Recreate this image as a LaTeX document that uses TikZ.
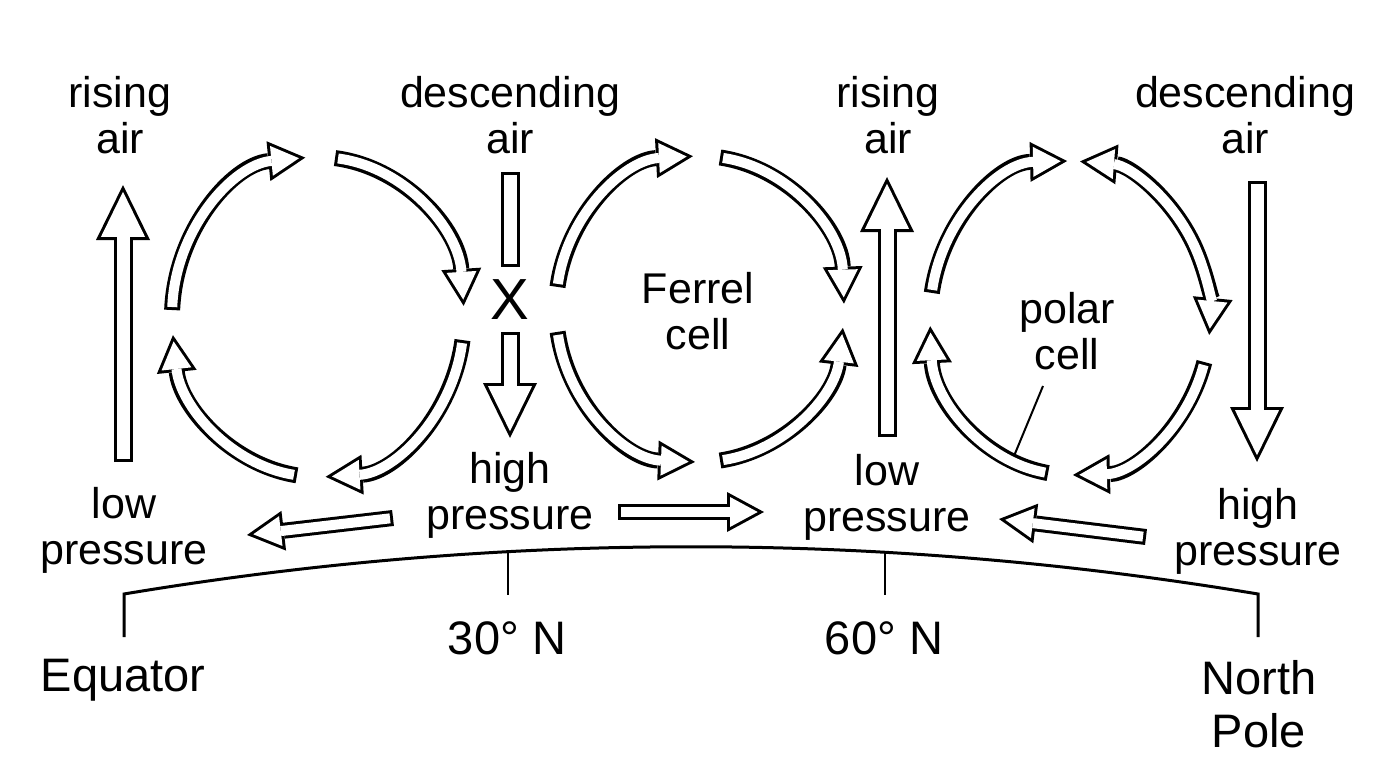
\documentclass[tikz,border=0pt]{standalone}
\usepackage{fontspec}
\setmainfont{Liberation Sans}
\usetikzlibrary{arrows.meta, calc}

\begin{document}
\begin{tikzpicture}[x=1pt, y=-1pt,
  lab/.style={font=\fontsize{43}{46}\selectfont, align=center, inner sep=0pt},
  geo/.style={font=\fontsize{47}{53}\selectfont, align=center, inner sep=0pt},
  bigflow/.style={draw=black, line width=19pt, -{Triangle[length=55pt, width=54pt, line width=0pt]},
    postaction={draw=white, line width=13pt, shorten <=3pt, shorten >=6.8pt, -{Triangle[length=45pt, width=44pt, line width=0pt]}}},
  flowbar/.style={draw=black, line width=19pt,
    postaction={draw=white, line width=13pt, shorten <=3pt, shorten >=3pt}},
  smallflow/.style={draw=black, line width=16pt, -{Triangle[length=37pt, width=40pt, line width=0pt]},
    postaction={draw=white, line width=10pt, shorten <=3pt, shorten >=6.3pt, -{Triangle[length=27.7pt, width=30pt, line width=0pt]}}},
  twoflow/.style={draw=black, line width=16pt, {Triangle[length=37pt, width=40pt, line width=0pt]}-{Triangle[length=37pt, width=40pt, line width=0pt]},
    postaction={draw=white, line width=10pt, shorten <=6.3pt, shorten >=6.3pt, {Triangle[length=27.7pt, width=30pt, line width=0pt]}-{Triangle[length=27.7pt, width=30pt, line width=0pt]}}},
  ground/.style={line width=3pt},
  latline/.style={line width=2pt}
]
\fill[white] (0,0) rectangle (1376,768);
\useasboundingbox (0,0) rectangle (1376,768);

% cell centres
\coordinate (hadley) at (318,317);
\coordinate (ferrel) at (700,309);
\coordinate (polarc) at (1070,318);

% Hadley cell
\foreach \a/\b in {182.5/265, 276.7/356, 8.3/87, 98.3/173.5}
  \draw[smallflow] ($(hadley)+(\a:146 and 160)$) arc[start angle=\a, end angle=\b, x radius=146, y radius=160];

% Ferrel cell
\foreach \a/\b in {188.3/267.2, 278/358, 171.4/92, 82/7.1}
  \draw[smallflow] ($(ferrel)+(\a:144 and 153)$) arc[start angle=\a, end angle=\b, x radius=144, y radius=153];

% polar cell
\foreach \a/\b in {189.2/268.8, 16.3/88.8, 99/177}
  \draw[smallflow] ($(polarc)+(\a:140 and 157)$) arc[start angle=\a, end angle=\b, x radius=140, y radius=157];
\draw[twoflow] ($(polarc)+(274.1:140 and 157)$) arc[start angle=274.1, end angle=366.2, x radius=140, y radius=157];

% rising and sinking air
\draw[bigflow] (123,462) -- (123,185);
\draw[flowbar] (510,172) -- (510,267);
\draw[bigflow] (510,332) -- (510,438);
\draw[bigflow] (887,437) -- (887,177);
\draw[bigflow] (1257,181) -- (1257,462);

% surface winds
\draw[smallflow] (393,518) -- (247,535);
\draw[smallflow] (618,512) -- (764,512);
\draw[smallflow] (1146,537) -- (999,519);

% labels
\node[lab] (rise0) at (120,115) {rising\\air};
\node[lab] (sink30) at (510,115) {descending\\air};
\node[lab] (rise60) at (888,115) {rising\\air};
\node[lab] (sink90) at (1245,115) {descending\\air};
\node[font=\fontsize{58}{58}\selectfont, inner sep=0pt] (conv) at (510,300) {X};
\node[lab] (ferrelcell) at (698,311) {Ferrel\\cell};
\node[lab] (polarcell) at (1067,331) {polar\\cell};
\node[lab] (low0) at (124,530) {low\\pressure};
\node[lab] (high30) at (510,495) {high\\pressure};
\node[lab] (low60) at (887,497) {low\\pressure};
\node[lab] (high90) at (1258,531) {high\\pressure};

% surface of the earth
\draw[ground] (124,637) -- (124,594) .. controls (501,531) and (881,531) .. (1258,594) -- (1258,637);
\draw[latline] (508,552) -- (508,595);
\draw[latline] (885,553) -- (885,595);
\node[geo] (equator) at (123,680) {Equator};
\node[geo] (lat30) at (507,638) {30° N};
\node[geo] (lat60) at (884,638) {60° N};
\node[geo] (pole) at (1259,704) {North\\Pole};

\coordinate (polarleg) at (1014,456);
\draw[latline] ([xshift=-24pt, yshift=-16pt]polarcell.south) -- (polarleg);
\end{tikzpicture}
\end{document}
